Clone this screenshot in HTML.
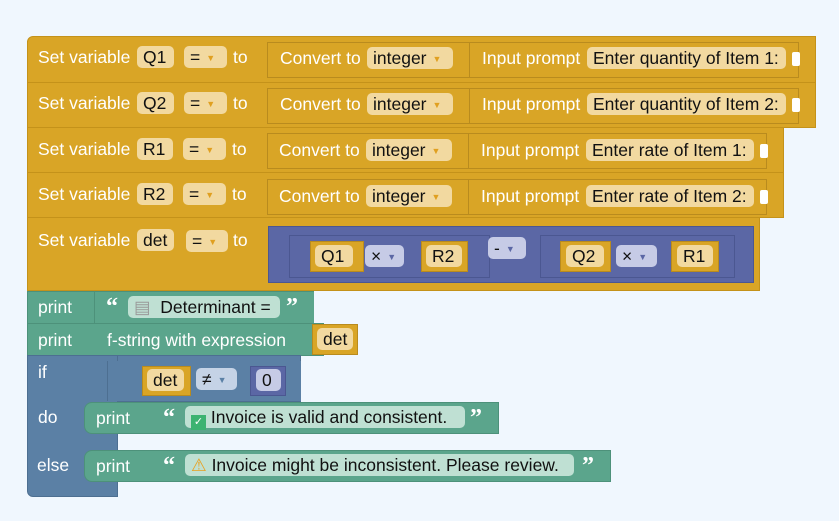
<!DOCTYPE html>
<html><head><meta charset="utf-8"><style>
body{margin:0;width:839px;height:521px;background:#f0f7fe;font-family:"Liberation Sans",Arial,sans-serif;font-size:17.5px;position:relative;overflow:hidden}
div{position:absolute;box-sizing:border-box}
.g{background:#d9a526;border:1px solid #c4921a}
.gi{background:#d9a526;border:1px solid #b98b1e}
.gr{background:#5ba58c;border:1px solid #4d917a}
.bl{background:#5b80a5;border:1px solid #4d6f91}
.pu{background:#5b67a5;border:1px solid #4b5791}
.t{color:#fff;white-space:nowrap;line-height:20px}
.f{background:#f2d9a0;border:none;border-radius:5px;color:#111;white-space:nowrap;line-height:22px;height:22px;padding:0 6px}
.fp{background:#c6cbe6;border:none;border-radius:5px;color:#111;line-height:22px;height:22px;padding:0 6px;white-space:nowrap}
.fb{background:#c5d3e6;border:none;border-radius:5px;color:#111;line-height:22px;height:22px;padding:0 6px;white-space:nowrap}
.fg{background:#bfe0d3;border:none;border-radius:5px;color:#111;line-height:22px;height:22px;padding:0 6px;white-space:nowrap}
.ar{font-size:9px;color:#e0a020;margin-left:6px;vertical-align:2px}
.arp{font-size:9px;color:#5b67a5;margin-left:6px;vertical-align:2px}
.q{color:#fff;font-weight:bold;font-family:"Liberation Serif",serif;font-size:24px;line-height:22px}
</style></head><body>

<!-- Row 1 -->
<div class="g" style="left:27px;top:36px;width:789px;height:47px;border-radius:6px 0 0 0"></div>
<div class="t" style="left:38px;top:47px">Set variable</div>
<div class="f" style="left:137px;top:46px;width:37px">Q1</div>
<div class="f" style="left:184px;top:46px;width:43px">=<span class="ar">▼</span></div>
<div class="t" style="left:233px;top:47px">to</div>
<div class="gi" style="left:267px;top:42px;width:532px;height:36px"></div>
<div class="t" style="left:280px;top:48px">Convert to</div>
<div class="f" style="left:367px;top:47px;width:86px">integer<span class="ar">▼</span></div>
<div class="gi" style="left:469px;top:42px;width:330px;height:36px"></div>
<div class="t" style="left:482px;top:48px">Input prompt</div>
<div class="f" style="left:587px;top:47px;width:199px">Enter quantity of Item 1:</div>
<div style="left:792px;top:52px;width:8px;height:14px;background:#fff;border-radius:2px"></div>

<!-- Row 2 -->
<div class="g" style="left:27px;top:82px;width:789px;height:46px"></div>
<div class="t" style="left:38px;top:93px">Set variable</div>
<div class="f" style="left:137px;top:92px;width:37px">Q2</div>
<div class="f" style="left:184px;top:92px;width:43px">=<span class="ar">▼</span></div>
<div class="t" style="left:233px;top:93px">to</div>
<div class="gi" style="left:267px;top:88px;width:532px;height:36px"></div>
<div class="t" style="left:280px;top:94px">Convert to</div>
<div class="f" style="left:367px;top:93px;width:86px">integer<span class="ar">▼</span></div>
<div class="gi" style="left:469px;top:88px;width:330px;height:36px"></div>
<div class="t" style="left:482px;top:94px">Input prompt</div>
<div class="f" style="left:587px;top:93px;width:199px">Enter quantity of Item 2:</div>
<div style="left:792px;top:98px;width:8px;height:14px;background:#fff;border-radius:2px"></div>

<!-- Row 3 -->
<div class="g" style="left:27px;top:127px;width:757px;height:46px"></div>
<div class="t" style="left:38px;top:139px">Set variable</div>
<div class="f" style="left:137px;top:138px;width:36px">R1</div>
<div class="f" style="left:183px;top:138px;width:43px">=<span class="ar">▼</span></div>
<div class="t" style="left:232px;top:139px">to</div>
<div class="gi" style="left:267px;top:133px;width:500px;height:36px"></div>
<div class="t" style="left:279px;top:140px">Convert to</div>
<div class="f" style="left:366px;top:139px;width:86px">integer<span class="ar">▼</span></div>
<div class="gi" style="left:468px;top:133px;width:299px;height:36px"></div>
<div class="t" style="left:481px;top:140px">Input prompt</div>
<div class="f" style="left:586px;top:139px;width:168px">Enter rate of Item 1:</div>
<div style="left:760px;top:144px;width:8px;height:14px;background:#fff;border-radius:2px"></div>

<!-- Row 4 -->
<div class="g" style="left:27px;top:172px;width:757px;height:46px"></div>
<div class="t" style="left:38px;top:184px">Set variable</div>
<div class="f" style="left:137px;top:183px;width:36px">R2</div>
<div class="f" style="left:183px;top:183px;width:43px">=<span class="ar">▼</span></div>
<div class="t" style="left:232px;top:184px">to</div>
<div class="gi" style="left:267px;top:179px;width:500px;height:36px"></div>
<div class="t" style="left:279px;top:186px">Convert to</div>
<div class="f" style="left:366px;top:185px;width:86px">integer<span class="ar">▼</span></div>
<div class="gi" style="left:468px;top:179px;width:299px;height:36px"></div>
<div class="t" style="left:481px;top:186px">Input prompt</div>
<div class="f" style="left:586px;top:185px;width:168px">Enter rate of Item 2:</div>
<div style="left:760px;top:190px;width:8px;height:14px;background:#fff;border-radius:2px"></div>

<!-- Row 5 -->
<div class="g" style="left:27px;top:217px;width:733px;height:74px"></div>
<div class="t" style="left:38px;top:230px">Set variable</div>
<div class="f" style="left:137px;top:229px;width:37px">det</div>
<div class="f" style="left:186px;top:230px;width:42px">=<span class="ar">▼</span></div>
<div class="t" style="left:233px;top:230px">to</div>
<div class="pu" style="left:268px;top:226px;width:486px;height:57px"></div>
<div class="pu" style="left:289px;top:235px;width:201px;height:43px"></div>
<div class="gi" style="left:310px;top:241px;width:54px;height:31px"></div>
<div class="f" style="left:315px;top:245px;width:38px">Q1</div>
<div class="fp" style="left:365px;top:245px;width:39px">×<span class="arp">▼</span></div>
<div class="gi" style="left:421px;top:241px;width:47px;height:31px"></div>
<div class="f" style="left:426px;top:245px;width:36px">R2</div>
<div class="fp" style="left:488px;top:237px;width:38px">-<span class="arp">▼</span></div>
<div class="pu" style="left:540px;top:235px;width:195px;height:43px"></div>
<div class="gi" style="left:560px;top:241px;width:51px;height:31px"></div>
<div class="f" style="left:566px;top:245px;width:38px">Q2</div>
<div class="fp" style="left:616px;top:245px;width:41px">×<span class="arp">▼</span></div>
<div class="gi" style="left:671px;top:241px;width:48px;height:31px"></div>
<div class="f" style="left:677px;top:245px;width:36px">R1</div>

<!-- print 1 -->
<div class="gr" style="left:27px;top:291px;width:287px;height:33px"></div>
<div class="t" style="left:38px;top:297px">print</div>
<div class="gr" style="left:94px;top:292px;width:220px;height:31px;border-width:0 0 0 1px"></div>
<div class="q" style="left:106px;top:296px">“</div>
<div class="fg" style="left:128px;top:296px;width:152px"><span style="color:#999">▤</span>&nbsp; Determinant =</div>
<div class="q" style="left:286px;top:296px">”</div>

<!-- print 2 -->
<div class="gr" style="left:27px;top:323px;width:297px;height:33px"></div>
<div class="t" style="left:38px;top:330px">print</div>
<div class="t" style="left:107px;top:330px">f-string with expression</div>
<div class="gi" style="left:312px;top:324px;width:46px;height:31px"></div>
<div class="f" style="left:317px;top:328px;width:36px">det</div>

<!-- if block -->
<div class="bl" style="left:27px;top:355px;width:274px;height:47px"></div>
<div class="bl" style="left:27px;top:355px;width:91px;height:142px;border-radius:0 0 0 6px"></div>
<div class="t" style="left:38px;top:362px">if</div>
<div class="bl" style="left:107px;top:361px;width:194px;height:40px;border-width:0 0 0 1px"></div>
<div class="gi" style="left:142px;top:366px;width:49px;height:30px"></div>
<div class="f" style="left:147px;top:369px;width:37px">det</div>
<div class="fb" style="left:196px;top:368px;width:41px">≠<span class="arp" style="color:#5b80a5">▼</span></div>
<div class="pu" style="left:250px;top:366px;width:36px;height:30px"></div>
<div class="fp" style="left:256px;top:369px;width:25px">0</div>
<div class="t" style="left:38px;top:407px">do</div>
<div class="t" style="left:37px;top:455px">else</div>

<div class="gr" style="left:84px;top:402px;width:415px;height:32px;border-radius:8px 0 0 8px"></div>
<div class="t" style="left:96px;top:408px">print</div>
<div class="q" style="left:163px;top:407px">“</div>
<div class="fg" style="left:185px;top:406px;width:280px"><span style="display:inline-block;width:15px;height:15px;background:#3cb371;color:#fff;font-size:11px;line-height:15px;text-align:center;vertical-align:-2px">✓</span>&nbsp;Invoice is valid and consistent.</div>
<div class="q" style="left:470px;top:407px">”</div>

<div class="gr" style="left:84px;top:450px;width:527px;height:32px;border-radius:8px 0 0 8px"></div>
<div class="t" style="left:96px;top:456px">print</div>
<div class="q" style="left:163px;top:455px">“</div>
<div class="fg" style="left:185px;top:454px;width:389px"><span style="color:#e8a020">⚠</span>&nbsp;Invoice might be inconsistent. Please review.</div>
<div class="q" style="left:582px;top:455px">”</div>
</body></html>
